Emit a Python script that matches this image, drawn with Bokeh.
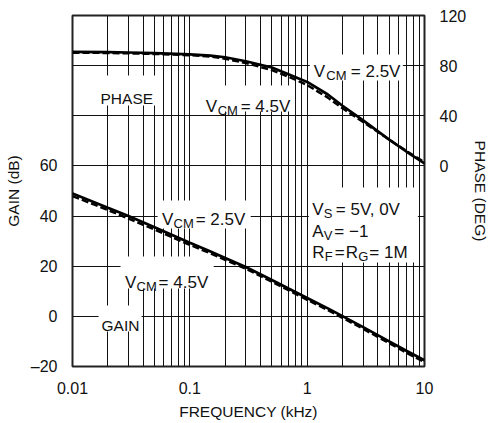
from bokeh.plotting import figure
from bokeh.models import Range1d, LinearAxis, FixedTicker
from bokeh.core.properties import value
from bokeh.embed import file_html
from bokeh.resources import INLINE

# ---------------- data ----------------
freq_khz = [0.01, 0.02, 0.03, 0.05, 0.1, 0.15, 0.2, 0.3, 0.5, 0.7, 1, 1.5, 2, 3, 5, 7, 10]
gain_vcm25 = [49.0, 43.3, 40.0, 35.5, 29.4, 25.9, 23.3, 19.7, 14.5, 11.0, 7.3, 3.2, 0.1, -4.3, -10.0, -13.7, -17.5]
gain_vcm45 = [48.0, 42.4, 39.0, 34.6, 28.5, 25.1, 22.5, 19.0, 13.8, 10.3, 6.6, 2.5, -0.6, -5.0, -10.7, -14.5, -18.3]
phase_vcm25 = [91.0, 90.8, 90.5, 90.0, 89.0, 88.0, 86.7, 83.5, 78.5, 73.0, 67.0, 57.0, 48.0, 36.3, 21.0, 11.5, 2.0]
phase_vcm45 = [90.3, 90.1, 89.8, 89.3, 88.3, 87.2, 85.5, 82.0, 76.5, 71.0, 64.5, 54.5, 46.0, 35.0, 21.0, 12.0, 3.0]

x_major_ticks = [0.01, 0.1, 1, 10]
x_major_labels = ["0.01", "0.1", "1", "10"]
gain_ticks = [-20, 0, 20, 40, 60]
gain_tick_labels = ["\u201320", "0", "20", "40", "60"]
gain_grid = [-20, 0, 20, 40, 60, 80, 100, 120]
phase_ticks = [0, 40, 80, 120]

FONT = "Liberation Sans"

# ---------------- figure ----------------
p = figure(width=494, height=423, x_axis_type="log",
           x_range=Range1d(0.01, 10), y_range=Range1d(-20, 120),
           output_backend="svg", toolbar_location=None,
           min_border_left=72, min_border_right=70, min_border_top=15, min_border_bottom=57)
p.extra_y_ranges = {"phase": Range1d(-160, 120)}

p.outline_line_color = "#222222"
p.outline_line_width = 2
p.background_fill_color = "white"
p.border_fill_color = "white"

# grid
grid_x = [m * 10.0 ** e for e in range(-2, 1) for m in range(1, 10)] + [10.0]
p.xgrid.ticker = FixedTicker(ticks=grid_x)
p.ygrid.ticker = FixedTicker(ticks=gain_grid)
for g in (p.xgrid, p.ygrid):
    g.grid_line_color = "#111111"
    g.grid_line_width = 1
    g.grid_line_alpha = 1.0

# axes
xa = p.xaxis[0]
xa.ticker = FixedTicker(ticks=x_major_ticks)
xa.major_label_overrides = dict(zip(x_major_ticks, x_major_labels))
xa.axis_label = "FREQUENCY (kHz)"
ya = p.yaxis[0]
ya.ticker = FixedTicker(ticks=gain_ticks)
ya.major_label_overrides = dict(zip(gain_ticks, gain_tick_labels))
ya.axis_label = "GAIN (dB)"
ra = LinearAxis(y_range_name="phase", axis_label="PHASE (DEG)")
ra.ticker = FixedTicker(ticks=phase_ticks)
p.add_layout(ra, "right")

for ax in (xa, ya, ra):
    ax.axis_line_color = None
    ax.major_tick_line_color = None
    ax.minor_tick_line_color = None
    ax.major_label_text_font = FONT
    ax.major_label_text_font_size = "16px"
    ax.major_label_text_color = "#111111"
    ax.axis_label_text_font = FONT
    ax.axis_label_text_font_size = "15.5px"
    ax.axis_label_text_font_style = "normal"
    ax.axis_label_text_color = "#111111"
    ax.major_label_standoff = 9
    ax.axis_label_standoff = 6
ra.axis_label_standoff = 3

# ---------------- label geometry helpers (page px -> data) ----------------
FX0, DEC, FY0, PX_PER_DB = 72.0, 117.2, 366.0, 351.0 / 140.0

def fx(px):
    return 10 ** (-2 + (px - FX0) / DEC)

def fy(py):
    return -20 + (FY0 - py) / PX_PER_DB

label_boxes = [
    (96, 155, 75, 105),     # PHASE
    (309, 402, 54, 80),     # VCM 2.5 phase
    (200, 293, 85, 111),    # VCM 4.5 phase
    (157, 250, 200, 228),   # VCM 2.5 gain
    (120, 213, 256, 288),   # VCM 4.5 gain
    (98, 141, 305, 331),    # GAIN
    (308, 417, 187, 262),   # conditions
]
for x0, x1, y0, y1 in label_boxes:
    p.quad(left=fx(x0), right=fx(x1), top=fy(y0), bottom=fy(y1),
           fill_color="white", line_color=None)

# ---------------- curves ----------------
p.line(freq_khz, gain_vcm25, line_color="black", line_width=2.7)
p.line(freq_khz, gain_vcm45, line_color="black", line_width=2.4, line_dash="7 3")
p.line(freq_khz, phase_vcm25, y_range_name="phase", line_color="black", line_width=2.7)
p.line(freq_khz, phase_vcm45, y_range_name="phase", line_color="black", line_width=2.4, line_dash="7 3")

# ---------------- text labels (text, page x, baseline page y, size) ----------------
BIG, SUB, WORD = "17px", "13px", "15.5px"
segments = [
    ("PHASE", 100, 98, WORD),
    ("V", 313, 71, BIG), ("CM", 325.5, 75, SUB), ("= 2.5V", 350, 71, BIG),
    ("V", 205, 106, BIG), ("CM", 217, 110, SUB), ("= 4.5V", 240, 106, BIG),
    ("V", 161.5, 218.5, BIG), ("CM", 173, 222.5, SUB), ("= 2.5V", 195, 218.5, BIG),
    ("V", 124.5, 281.5, BIG), ("CM", 136, 285.5, SUB), ("= 4.5V", 158, 281.5, BIG),
    ("GAIN", 101, 324.5, WORD),
    ("V", 311.5, 209, BIG), ("S", 323, 213, SUB), ("= 5V, 0V", 335, 209, BIG),
    ("A", 311.5, 230.5, BIG), ("V", 323, 234.5, SUB), ("= \u22121", 333.5, 230.5, BIG),
    ("R", 311.5, 252, BIG), ("F", 324, 256, SUB), ("=", 334, 252, BIG),
    ("R", 345, 252, BIG), ("G", 357.5, 256, SUB), ("= 1M", 368.5, 252, BIG),
]
for txt, px, py, size in segments:
    p.text(x=[fx(px)], y=[fy(py)], text=[txt], text_font=value(FONT),
           text_font_size=size, text_color="#111111",
           text_align="left", text_baseline="alphabetic")

open("out.html", "w").write(file_html(p, INLINE))
